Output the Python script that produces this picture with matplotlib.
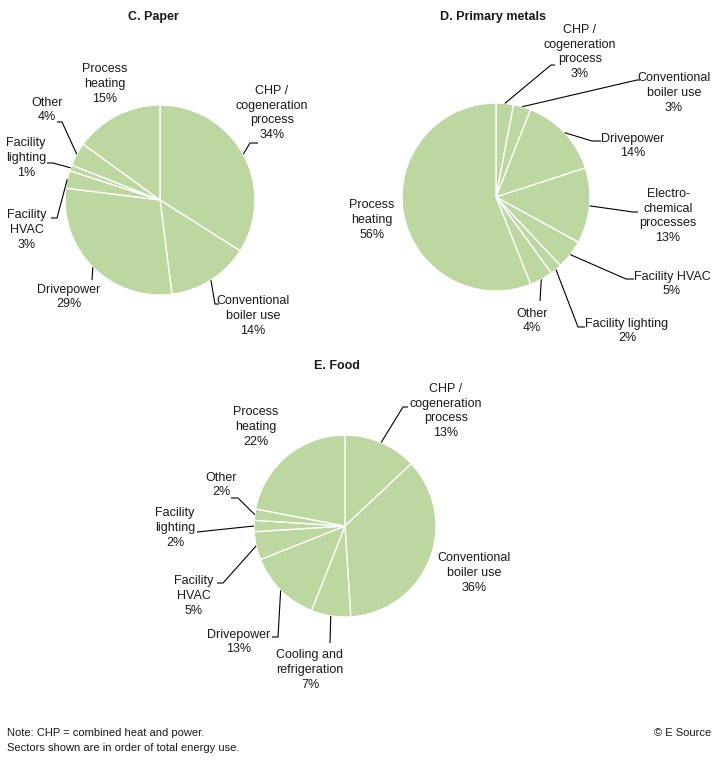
import numpy as np
import matplotlib.pyplot as plt

# ---- data ----
paper_labels = ["CHP /\ncogeneration\nprocess", "Conventional\nboiler use", "Drivepower",
                "Facility\nHVAC", "Facility\nlighting", "Other", "Process\nheating"]
paper_values = [34, 14, 29, 3, 1, 4, 15]

metals_labels = ["CHP /\ncogeneration\nprocess", "Conventional\nboiler use", "Drivepower",
                 "Electro-\nchemical\nprocesses", "Facility HVAC", "Facility lighting",
                 "Other", "Process\nheating"]
metals_values = [3, 3, 14, 13, 5, 2, 4, 56]

food_labels = ["CHP /\ncogeneration\nprocess", "Conventional\nboiler use", "Cooling and\nrefrigeration",
               "Drivepower", "Facility\nHVAC", "Facility\nlighting", "Other", "Process\nheating"]
food_values = [13, 36, 7, 13, 5, 2, 2, 22]

# ---- layout (pixel coords, y from top) ----
W, H = 717, 762
GREEN = "#bcd79f"
TXT = "#1a1a1a"
FONT = ["Liberation Sans", "DejaVu Sans"]

# text centre, leader elbow points (None = no leader)
paper_layout = [((272, 113), [(250, 143), (258, 143)]),
                ((253, 316), [(215, 304), (219, 304)]),
                ((69, 297), [(92, 280)]),
                ((27, 230), [(57, 218), (51, 218)]),
                ((26, 158), [(53, 163), (47, 163)]),
                ((47, 110), [(62, 122), (57, 122)]),
                ((105, 84), None)]
metals_layout = [((580, 52), [(551, 65), (555, 65)]),
                 ((674, 93), [(637, 80), (640, 80)]),
                 ((633, 146), [(592, 141), (601, 141)]),
                 ((668, 216), [(633, 212), (638, 212)]),
                 ((672, 284), [(626, 279), (634, 279)]),
                 ((627, 331), [(578, 327), (585, 327)]),
                 ((532, 321), [(540, 301)]),
                 ((372, 220), None)]
food_layout = [((446, 411), [(403, 407), (408, 407)]),
               ((474, 573), None),
               ((310, 670), [(330, 643)]),
               ((239, 642), [(278, 637), (272, 637)]),
               ((194, 596), [(223, 583), (217, 583)]),
               ((175, 528), [(197, 532)]),
               ((221, 485), [(238, 498), (231, 498)]),
               ((256, 427), None)]

pies = [("C. Paper", (153, 17), (160, 200), 95, paper_labels, paper_values, paper_layout),
        ("D. Primary metals", (493, 17), (496, 197), 94, metals_labels, metals_values, metals_layout),
        ("E. Food", (337, 366), (345, 526), 91, food_labels, food_values, food_layout)]

fig = plt.figure(figsize=(W / 100, H / 100), dpi=100, facecolor="white")
ax = fig.add_axes([0, 0, 1, 1])


def Y(y):
    return H - y


for title, tpos, center, r, labels, values, layout in pies:
    cx, cy = center[0], Y(center[1])
    wedges, _ = ax.pie(values, center=(cx, cy), radius=r, startangle=90, counterclock=False,
                       colors=[GREEN] * len(values),
                       wedgeprops={"edgecolor": "white", "linewidth": 1.0})
    ax.text(tpos[0], Y(tpos[1]), title, ha="center", va="center", fontsize=9,
            fontweight="bold", family=FONT, color=TXT)
    for w, lab, v, (tp, elbow) in zip(wedges, labels, values, layout):
        ax.text(tp[0], Y(tp[1]), f"{lab}\n{v}%", ha="center", va="center", fontsize=9,
                family=FONT, color=TXT, linespacing=1.3)
        if elbow:
            mid = np.deg2rad((w.theta1 + w.theta2) / 2)
            xs = [cx + r * np.cos(mid)] + [p[0] for p in elbow]
            ys = [cy + r * np.sin(mid)] + [Y(p[1]) for p in elbow]
            ax.plot(xs, ys, color="black", lw=0.8, solid_capstyle="butt")

ax.text(7, Y(733), "Note: CHP = combined heat and power.", ha="left", va="center",
        fontsize=8, family=FONT, color=TXT)
ax.text(7, Y(748), "Sectors shown are in order of total energy use.", ha="left", va="center",
        fontsize=8, family=FONT, color=TXT)
ax.text(711, Y(733), "© E Source", ha="right", va="center", fontsize=8, family=FONT, color=TXT)

ax.set_xlim(0, W)
ax.set_ylim(0, H)
ax.set_aspect("equal")
ax.axis("off")

fig.savefig("out.png", dpi=100, facecolor="white")
